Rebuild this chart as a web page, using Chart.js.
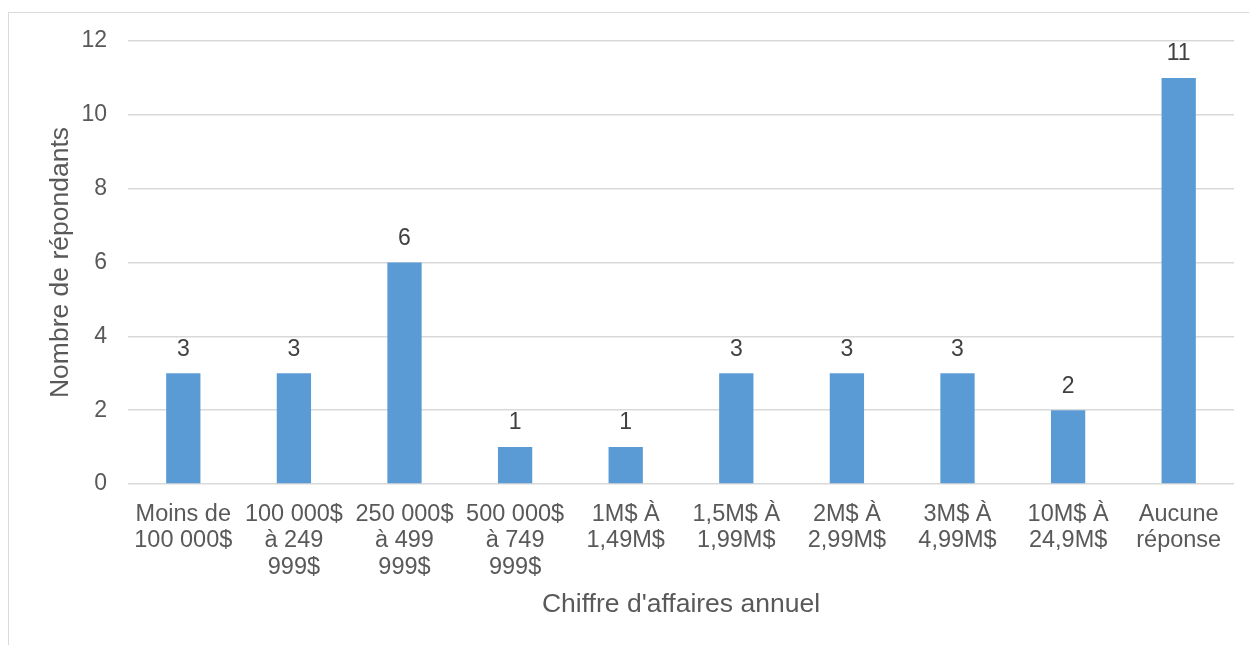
<!DOCTYPE html>
<html>
<head>
<meta charset="utf-8">
<script src="https://cdn.jsdelivr.net/npm/chart.js@4/dist/chart.umd.min.js"></script>
<style>
	html, body { margin: 0; padding: 0; background: #fff; }
	#wrap { position: absolute; left: 0; top: 0; width: 1249px; height: 645px; }
</style>
</head>
<body>
<div id="wrap"><canvas id="chart"></canvas></div>
<script>
// categories (one array per tick label, one entry per line)
var categories = [
	["Moins de", "100 000$"],
	["100 000$", "à 249", "999$"],
	["250 000$", "à 499", "999$"],
	["500 000$", "à 749", "999$"],
	["1M$ À", "1,49M$"],
	["1,5M$ À", "1,99M$"],
	["2M$ À", "2,99M$"],
	["3M$ À", "4,99M$"],
	["10M$ À", "24,9M$"],
	["Aucune", "réponse"],
];
var values = [3, 3, 6, 1, 1, 3, 3, 3, 2, 11];
var yTicks = [0, 2, 4, 6, 8, 10, 12];
var xTitle = "Chiffre d'affaires annuel";
var yTitle = "Nombre de répondants";

var FONT = "'Liberation Sans', Arial, sans-serif";

// outer frame of the chart object
var framePlugin = {
	id: "frame",
	beforeDraw: function (chart) {
		var c = chart.ctx;
		c.save();
		c.fillStyle = "#ffffff";
		c.fillRect(0, 0, chart.width, chart.height);
		c.strokeStyle = "#d9d9d9";
		c.lineWidth = 1;
		c.strokeRect(8.5, 12.5, 1400, 800);
		c.restore();
	},
};

// value labels above the bars
var valueLabels = {
	id: "valueLabels",
	afterDatasetsDraw: function (chart) {
		var c = chart.ctx;
		var meta = chart.getDatasetMeta(0);
		c.save();
		c.font = "23px " + FONT;
		c.fillStyle = "#404040";
		c.textAlign = "center";
		c.textBaseline = "middle";
		meta.data.forEach(function (bar, i) {
			c.fillText(String(values[i]), bar.x, bar.y - 24);
		});
		c.restore();
	},
};

const ctx = document.getElementById("chart");
const myChart = new Chart(ctx, {
	type: "bar",
	data: {
		labels: categories,
		datasets: [
			{
				label: yTitle,
				data: values,
				backgroundColor: "#5b9bd5",
				borderWidth: 0,
				barPercentage: 0.31,
				categoryPercentage: 1,
			},
		],
	},
	options: {
		responsive: true,
		maintainAspectRatio: false,
		animation: false,
		devicePixelRatio: 1,
		layout: {
			padding: { left: 0, right: 15, top: 41, bottom: 0 },
		},
		plugins: {
			legend: { display: false },
			tooltip: { enabled: false },
		},
		scales: {
			x: {
				grid: { display: false, drawTicks: false },
				border: { display: false },
				ticks: {
					color: "#595959",
					font: { family: FONT, size: 23.5, lineHeight: 1.13 },
					padding: 17,
					maxRotation: 0,
					autoSkip: false,
				},
				title: {
					display: true,
					text: xTitle,
					color: "#595959",
					font: { family: FONT, size: 26.5, lineHeight: 1.2 },
					padding: { top: 0, bottom: 24 },
				},
				afterFit: function (scale) {
					scale.height = 161;
				},
			},
			y: {
				min: 0,
				max: 12,
				afterBuildTicks: function (scale) {
					scale.ticks = yTicks.map(function (v) { return { value: v }; });
				},
				grid: { color: "#d9d9d9", lineWidth: 1.5, drawTicks: false },
				border: { display: false },
				ticks: {
					color: "#595959",
					font: { family: FONT, size: 23 },
					padding: 21,
				},
				title: {
					display: true,
					text: yTitle,
					color: "#595959",
					font: { family: FONT, size: 26.5, lineHeight: 1.2 },
					padding: { top: 45, bottom: 0 },
				},
				afterFit: function (scale) {
					scale.width = 128;
				},
			},
		},
	},
	plugins: [framePlugin, valueLabels],
});
</script>
</body>
</html>
